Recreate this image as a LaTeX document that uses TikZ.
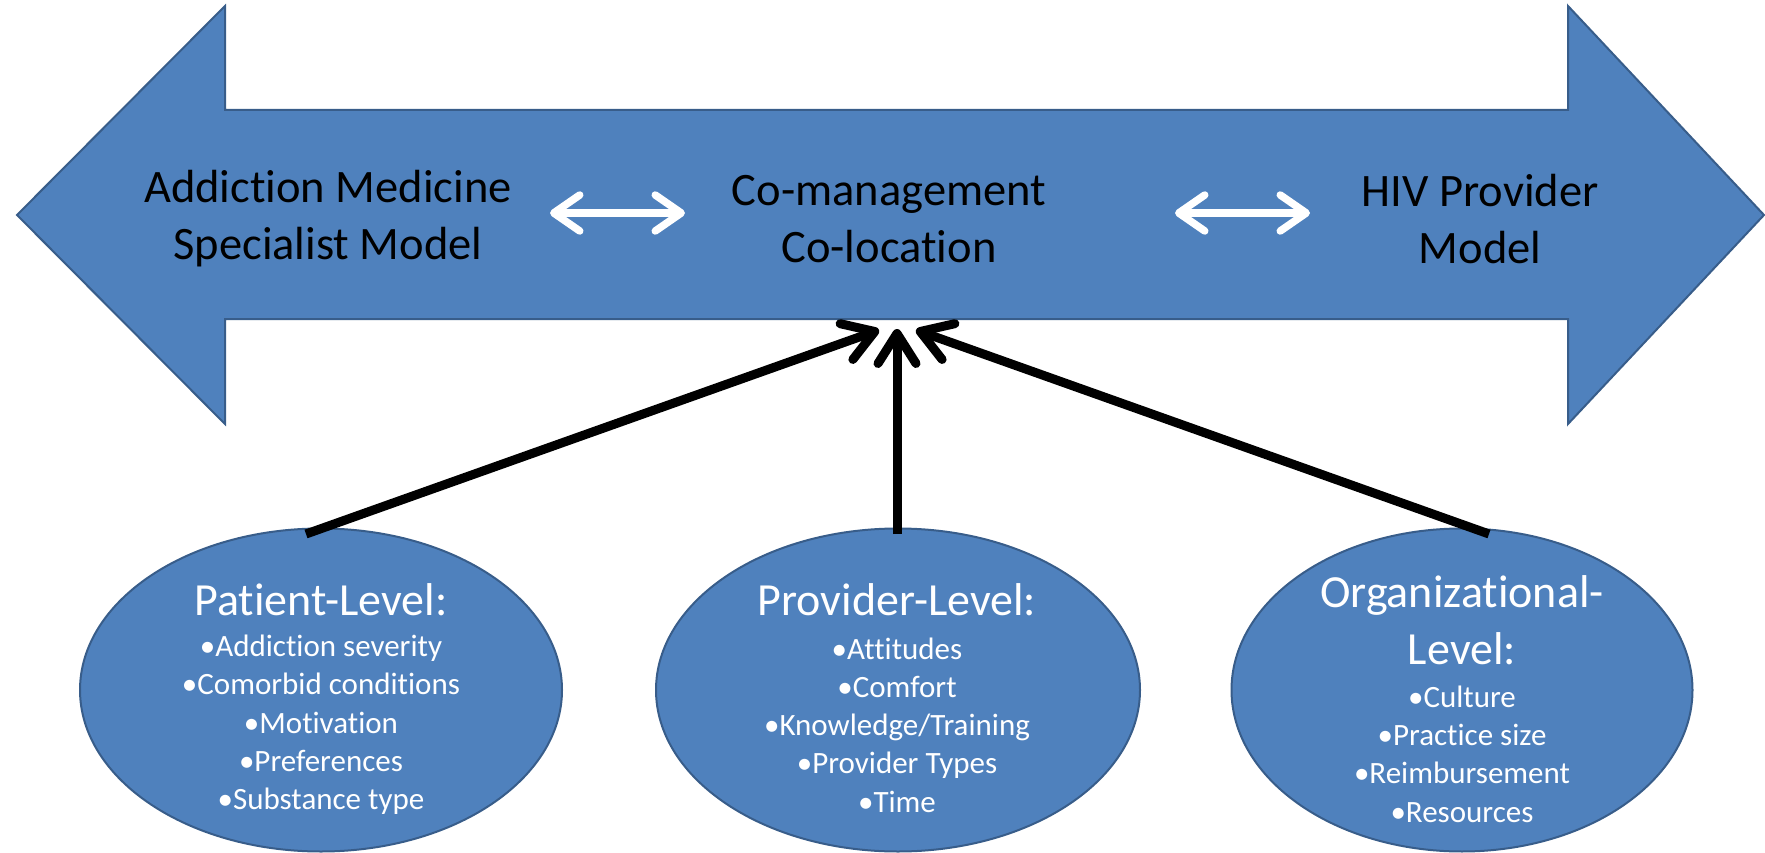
\documentclass[tikz,border=0pt]{standalone}
\usepackage{fontspec}
\setmainfont[Ligatures=NoCommon]{Carlito}
\usetikzlibrary{arrows.meta,shapes.geometric}
\definecolor{fillblue}{HTML}{4F81BD}
\definecolor{edgeblue}{HTML}{385D8A}
\newcommand\tiSep{t\kern0pt i}
\begin{document}
\begin{tikzpicture}[x=1pt,y=-1pt,
  bigarrow/.style={fill=fillblue, draw=edgeblue, line width=2pt, line join=miter},
  blob/.style={ellipse, fill=fillblue, draw=edgeblue, line width=2pt, inner sep=0pt},
  toptxt/.style={align=center, font=\fontsize{46.5}{57}\selectfont, text=black, inner sep=0pt},
  ttl/.style={align=center, font=\fontsize{46}{57}\selectfont, text=white, inner sep=0pt},
  lst/.style={align=center, font=\fontsize{31}{38.3}\selectfont, text=white, inner sep=0pt},
  push/.style={draw=black, line width=9pt, -{Straight Barb[length=30pt, width=38pt, round]}},
  swapper/.style={draw=white, line width=7.5pt, {Straight Barb[length=26pt, width=36pt, round]}-{Straight Barb[length=26pt, width=36pt, round]}}
]
\useasboundingbox (0,0) rectangle (1765,853);

% big double-headed arrow
\draw[bigarrow] (17,215) -- (225,6) -- (225,110) -- (1568,110) -- (1568,6) -- (1764,215)
  -- (1568,424) -- (1568,319) -- (225,319) -- (225,424) -- cycle;

% top texts
\node[toptxt] (addm) at (328,219) {Addic\tiSep on Medicine\\Specialist Model};
\node[toptxt] (coman) at (889,219) {Co-management\\Co-loca\tiSep on};
\node[toptxt] (hivm) at (1480,219) {HIV Provider\\Model};

% white double arrows
\coordinate (sa1) at (550,213);
\coordinate (sa2) at (685,213);
\coordinate (sb1) at (1175,213);
\coordinate (sb2) at (1310,213);
\draw[swapper] (sa1) -- (sa2);
\draw[swapper] (sb1) -- (sb2);

% ellipses
\node[blob, minimum width=482pt, minimum height=323pt] (pat) at (321,690) {};
\node[blob, minimum width=484pt, minimum height=323pt] (pro) at (898,690) {};
\node[blob, minimum width=461pt, minimum height=323pt] (org) at (1462,690) {};

\node[ttl] (patT) at (321,600) {Patient-Level:};
\node[lst] (patL) at (321,725) {•Addic\tiSep on severity\\•Comorbid condi\tiSep ons\\•Motiva\tiSep on\\•Preferences\\•Substance type};

\node[ttl] (proT) at (897,600) {Provider-Level:};
\node[lst] (proL) at (897,725) {•At\tiSep tudes\\•Comfort\\•Knowledge/Training\\•Provider Types\\•Time};

\node[ttl] (orgT) at (1462,620) {Organiza\tiSep onal-\\Level:};
\node[lst] (orgL) at (1462,754) {•Culture\\•Practice size\\•Reimbursement\\•Resources};

% black arrows
\coordinate (ps) at (306,534);
\coordinate (vs) at (897,534);
\coordinate (os) at (1489,534);
\coordinate (pt) at (879,330);
\coordinate (vt) at (897,329);
\coordinate (ot) at (916,330);
\draw[push] (ps) -- (pt);
\draw[push] (vs) -- (vt);
\draw[push] (os) -- (ot);
\end{tikzpicture}
\end{document}
